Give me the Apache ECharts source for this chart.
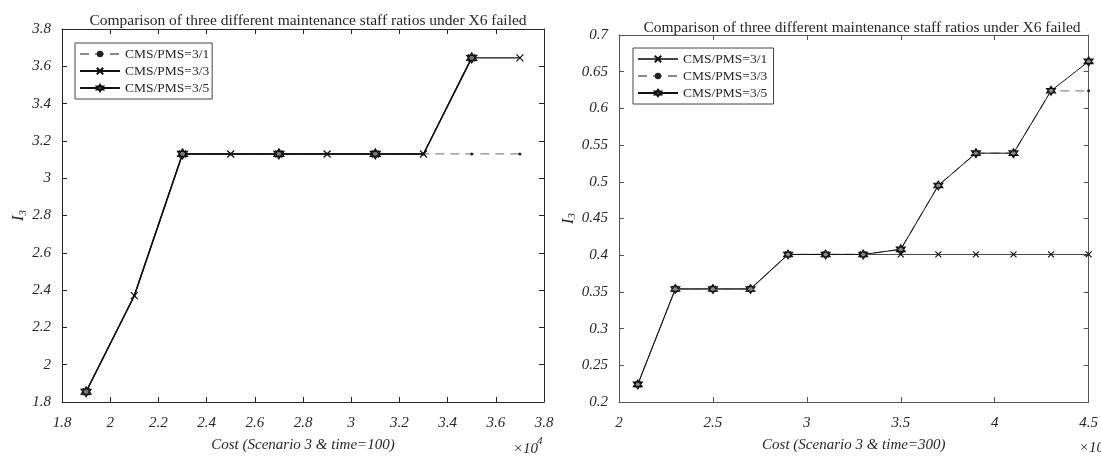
<!DOCTYPE html>
<html>
<head>
<meta charset="utf-8">
<script src="https://cdn.jsdelivr.net/npm/echarts@6/dist/echarts.min.js"></script>
<style>
  html, body { margin: 0; padding: 0; background: #fff; }
  #main { width: 1101px; height: 458px; }
</style>
</head>
<body>
<div id="main"></div>
<script>
// left panel: time=100
var leftCost = [1.9, 2.1, 2.3, 2.5, 2.7, 2.9, 3.1, 3.3, 3.5, 3.7];
var left31 = [1.855, 2.37, 3.13, 3.13, 3.13, 3.13, 3.13, 3.13, 3.13, 3.13];
var left33 = [1.855, 2.37, 3.13, 3.13, 3.13, 3.13, 3.13, 3.13, 3.645, 3.645];
var left35 = [1.855, 2.37, 3.13, 3.13, 3.13, 3.13, 3.13, 3.13, 3.645];
var left35Marked = [0, 2, 4, 6, 8];

// right panel: time=300
var rightCost = [2.1, 2.3, 2.5, 2.7, 2.9, 3.1, 3.3, 3.5, 3.7, 3.9, 4.1, 4.3, 4.5];
var right31 = [0.224, 0.354, 0.354, 0.354, 0.401, 0.401, 0.401, 0.401, 0.401, 0.401, 0.401, 0.401, 0.401];
var right33 = [0.224, 0.354, 0.354, 0.354, 0.401, 0.401, 0.401, 0.408, 0.495, 0.539, 0.539, 0.624, 0.624];
var right35 = [0.224, 0.354, 0.354, 0.354, 0.401, 0.401, 0.401, 0.408, 0.495, 0.539, 0.539, 0.624, 0.664];

var names = ['CMS/PMS=3/1', 'CMS/PMS=3/3', 'CMS/PMS=3/5'];
// right names get a trailing space so the two legends keep their own styles
var namesR = names.map(function(n) { return n + ' '; });

var FONT = 'Liberation Serif';
var INK = '#262626';
var xMark = 'path://M0,0L10,10M10,0L0,10';
var hexMark = 'path://M5,0L9.33,7.5L0.67,7.5Z M5,10L0.67,2.5L9.33,2.5Z';

function pairs(xs, ys, marked) {
  return ys.map(function(y, i) {
    var p = { value: [xs[i], y] };
    if (marked && marked.indexOf(i) < 0) p.symbol = 'none';
    return p;
  });
}

function boxAxes(grid, min, max, step, axisColor, yaxis) {
  var base = {
    gridIndex: grid,
    type: 'value',
    min: min,
    max: max,
    interval: step,
    splitLine: { show: false },
    axisLine: { show: true, onZero: false, lineStyle: { color: axisColor, width: 1 } },
    axisTick: { show: true, inside: true, length: 5, lineStyle: { color: axisColor } }
  };
  var a = JSON.parse(JSON.stringify(base));
  a.axisLabel = { show: true, color: INK, fontFamily: FONT, fontStyle: 'italic', fontSize: 15, margin: yaxis ? 11 : 14 };
  var b = JSON.parse(JSON.stringify(base));
  b.axisLabel = { show: false };
  if (yaxis) { a.position = 'left'; b.position = 'right'; }
  else { a.position = 'bottom'; b.position = 'top'; }
  return [a, b];
}

var chart = echarts.init(document.getElementById('main'));

var lx = boxAxes(0, 1.8, 3.8, 0.2, INK, false);
var ly = boxAxes(0, 1.8, 3.8, 0.2, INK, true);
var rx = boxAxes(1, 2, 4.5, 0.5, '#555', false);
var ry = boxAxes(1, 0.2, 0.7, 0.05, '#555', true);

lx[0].name = 'Cost (Scenario 3 & time=100)';
rx[0].name = 'Cost (Scenario 3 & time=300)';
[lx[0], rx[0]].forEach(function(a) {
  a.nameLocation = 'middle';
  a.nameGap = 36;
  a.nameTextStyle = { color: INK, fontFamily: FONT, fontStyle: 'italic', fontSize: 15 };
});
[ly[0], ry[0]].forEach(function(a) {
  a.name = '{i|I}{s|3}';
  a.nameLocation = 'middle';
  a.nameRotate = 90;
  a.nameGap = 32;
  a.nameTextStyle = {
    color: INK,
    rich: {
      i: { fontFamily: FONT, fontStyle: 'italic', fontSize: 16, color: INK },
      s: { fontFamily: FONT, fontStyle: 'italic', fontSize: 11, color: INK, padding: [8, 0, 0, 0] }
    }
  };
});

var titleStyle = { color: INK, fontFamily: FONT, fontWeight: 'normal', fontSize: 15.5 };
var legendText = { color: INK, fontFamily: FONT, fontSize: 13.5, lineHeight: 14 };

var option = {
  animation: false,
  backgroundColor: '#fff',
  title: [
    { text: 'Comparison of three different maintenance staff ratios under X6 failed', left: 303, top: 8, textAlign: 'center', textStyle: titleStyle },
    { text: 'Comparison of three different maintenance staff ratios under X6 failed', left: 857, top: 15, textAlign: 'center', textStyle: titleStyle }
  ],
  grid: [
    { left: 62, top: 29, width: 482, height: 379 },
    { left: 619, top: 35, width: 476, height: 376 }
  ],
  legend: [
    {
      data: names, orient: 'vertical', left: 75, top: 43, itemWidth: 40, itemHeight: 8, itemGap: 3,
      padding: [4, 3, 4, 4], borderColor: '#444', borderWidth: 1, backgroundColor: '#fff',
      textStyle: legendText, selectedMode: false
    },
    {
      data: namesR, orient: 'vertical', left: 633, top: 48, itemWidth: 40, itemHeight: 8, itemGap: 3,
      padding: [4, 3, 4, 4], borderColor: '#444', borderWidth: 1, backgroundColor: '#fff',
      textStyle: legendText, selectedMode: false
    }
  ],
  xAxis: [lx[0], lx[1], rx[0], rx[1]],
  yAxis: [ly[0], ly[1], ry[0], ry[1]],
  graphic: [
    { type: 'text', left: 513, top: 442, style: { text: '×10', fill: INK, font: 'italic 15px "Liberation Serif"' } },
    { type: 'text', left: 537, top: 436, style: { text: '4', fill: INK, font: 'italic 11px "Liberation Serif"' } },
    { type: 'text', left: 1079, top: 441, style: { text: '×10', fill: INK, font: 'italic 15px "Liberation Serif"' } },
    { type: 'text', left: 1103, top: 435, style: { text: '4', fill: INK, font: 'italic 11px "Liberation Serif"' } }
  ],
  series: [
    {
      name: names[0], type: 'line', xAxisIndex: 0, yAxisIndex: 0,
      data: pairs(leftCost, left31),
      symbol: 'circle', symbolSize: 3, showAllSymbol: true,
      lineStyle: { color: '#8a8a8a', width: 1.2, type: [9, 6] },
      itemStyle: { color: '#222' }
    },
    {
      name: names[1], type: 'line', xAxisIndex: 0, yAxisIndex: 0,
      data: pairs(leftCost, left33),
      symbol: xMark, symbolSize: 7, showAllSymbol: true,
      lineStyle: { color: '#111', width: 1.4 },
      itemStyle: { color: 'rgba(0,0,0,0)', borderColor: '#111', borderWidth: 1.2 }
    },
    {
      name: names[2], type: 'line', xAxisIndex: 0, yAxisIndex: 0,
      data: pairs(leftCost, left35, left35Marked),
      symbol: hexMark, symbolSize: 10, showAllSymbol: true,
      lineStyle: { color: '#111', width: 1.4 },
      itemStyle: { color: '#777', borderColor: '#111', borderWidth: 1.2 }
    },
    {
      name: namesR[0], type: 'line', xAxisIndex: 2, yAxisIndex: 2,
      data: pairs(rightCost, right31),
      symbol: xMark, symbolSize: 6, showAllSymbol: true,
      lineStyle: { color: '#444', width: 1 },
      itemStyle: { color: 'rgba(0,0,0,0)', borderColor: '#111', borderWidth: 1.1 }
    },
    {
      name: namesR[1], type: 'line', xAxisIndex: 2, yAxisIndex: 2,
      data: pairs(rightCost, right33),
      symbol: 'circle', symbolSize: 3, showAllSymbol: true,
      lineStyle: { color: '#8a8a8a', width: 1.2, type: [9, 6] },
      itemStyle: { color: '#222' }
    },
    {
      name: namesR[2], type: 'line', xAxisIndex: 2, yAxisIndex: 2,
      data: pairs(rightCost, right35),
      symbol: hexMark, symbolSize: 9, showAllSymbol: true,
      lineStyle: { color: '#111', width: 1 },
      itemStyle: { color: '#888', borderColor: '#111', borderWidth: 1.1 }
    }
  ]
};

chart.setOption(option);
</script>
</body>
</html>
